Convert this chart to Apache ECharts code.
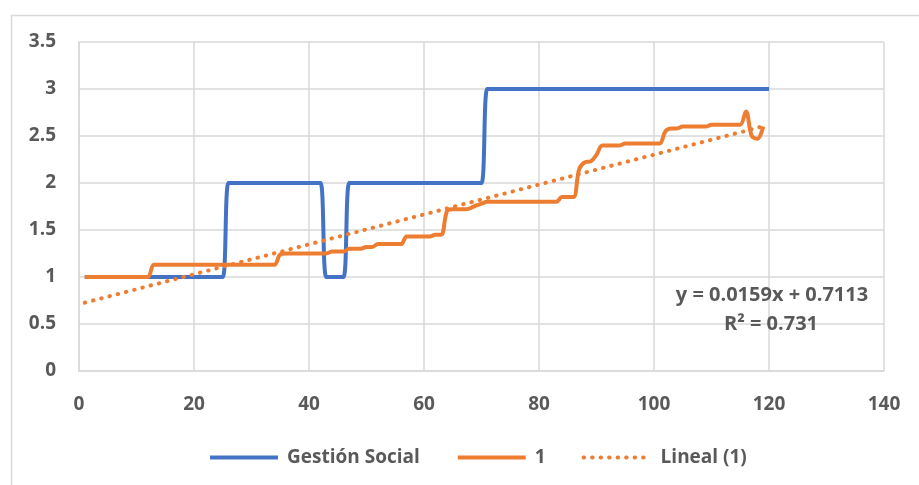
<!DOCTYPE html>
<html>
<head>
<meta charset="utf-8">
<script src="https://cdn.jsdelivr.net/npm/echarts@6/dist/echarts.min.js"></script>
<style>
html,body{margin:0;padding:0;background:#fff;}
#c{width:919px;height:485px;}
</style>
</head>
<body>
<div id="c"></div>
<script>
// ---- data ----
var seriesNames = ['Gestión Social', '1', 'Lineal (1)'];
var gestionSocial = [
  1,1,1,1,1,1,1,1,1,1,1,1,1,1,1,1,1,1,1,1,1,1,1,1,1,
  2,2,2,2,2,2,2,2,2,2,2,2,2,2,2,2,2,
  1,1,1,1,
  2,2,2,2,2,2,2,2,2,2,2,2,2,2,2,2,2,2,2,2,2,2,2,2,
  3,3,3,3,3,3,3,3,3,3,3,3,3,3,3,3,3,3,3,3,3,3,3,3,3,
  3,3,3,3,3,3,3,3,3,3,3,3,3,3,3,3,3,3,3,3,3,3,3,3,3
];
var serie1 = [
  1,1,1,1,1,1,1,1,1,1,1,1,
  1.13,1.13,1.13,1.13,1.13,1.13,1.13,1.13,1.13,1.13,1.13,1.13,1.13,1.13,1.13,1.13,1.13,1.13,1.13,1.13,1.13,1.13,
  1.24,
  1.25,1.25,1.25,1.25,1.25,1.25,1.25,1.25,
  1.27,1.27,1.27,
  1.3,1.3,1.3,
  1.32,1.32,
  1.35,1.35,1.35,1.35,1.35,
  1.43,1.43,1.43,1.43,1.43,
  1.45,1.45,
  1.7,
  1.72,1.72,1.72,
  1.73,1.76,1.78,
  1.8,1.8,1.8,1.8,1.8,1.8,1.8,1.8,1.8,1.8,1.8,1.8,1.8,
  1.85,1.85,1.85,
  2.15,2.22,2.23,2.3,
  2.4,2.4,2.4,2.4,
  2.42,2.42,2.42,2.42,2.42,2.42,2.42,
  2.55,2.58,2.58,
  2.6,2.6,2.6,2.6,2.6,
  2.62,2.62,2.62,2.62,2.62,2.62,
  2.76,2.5,2.47,2.6
];
var trendSlope = 0.0159;
var trendIntercept = 0.7113;
var trendR2 = 0.731;
var xTicks = {min: 0, max: 140, interval: 20};
var yTicks = {min: 0, max: 3.5, interval: 0.5};

// ---- build ----
function toPairs(arr){ return arr.map(function(v,i){ return [i+1, v]; }); }
var trendX = [1, serie1.length];
var trendData = trendX.map(function(x){ return [x, trendSlope*x + trendIntercept]; });

var FONT = '"Open Sans"';
var TXT = '#595959';
var FS = 19;
var LW = 4;
var chart = echarts.init(document.getElementById('c'), null, {renderer:'canvas'});
chart.setOption({
  animation: false,
  backgroundColor: '#fff',
  grid: {left: 79, right: 35, top: 42, bottom: 114, containLabel: false},
  xAxis: {
    type: 'value', min: xTicks.min, max: xTicks.max, interval: xTicks.interval,
    axisLine: {show: true, lineStyle: {color: '#d9d9d9', width: 1.5}},
    axisTick: {show: false},
    splitLine: {show: true, lineStyle: {color: '#d9d9d9', width: 1.5}},
    axisLabel: {color: TXT, fontFamily: FONT, fontWeight: 'bold', fontSize: FS, margin: 24}
  },
  yAxis: {
    type: 'value', min: yTicks.min, max: yTicks.max, interval: yTicks.interval,
    axisLine: {show: true, lineStyle: {color: '#d9d9d9', width: 1.5}},
    axisTick: {show: false},
    splitLine: {show: true, lineStyle: {color: '#d9d9d9', width: 1.5}},
    axisLabel: {color: TXT, fontFamily: FONT, fontWeight: 'bold', fontSize: FS, margin: 23}
  },
  legend: {
    left: 203, top: 443,
    itemWidth: 68, itemHeight: 10, itemGap: 36,
    itemStyle: {opacity: 0},
    lineStyle: {width: LW},
    textStyle: {color: TXT, fontFamily: FONT, fontWeight: 'bold', fontSize: FS, padding: [0,0,0,4]},
    data: seriesNames
  },
  series: [
    {name: seriesNames[0], type: 'line', data: toPairs(gestionSocial), symbol: 'none', smooth: 0.35,
     lineStyle: {color: '#4472C4', width: LW}, itemStyle: {color: '#4472C4'}, z: 3},
    {name: seriesNames[1], type: 'line', data: toPairs(serie1), symbol: 'none', smooth: 0.35,
     lineStyle: {color: '#ED7D31', width: LW}, itemStyle: {color: '#ED7D31'}, z: 4},
    {name: seriesNames[2], type: 'line', data: trendData, symbol: 'none',
     lineStyle: {color: '#ED7D31', width: LW, type: [0.5, 8], cap: 'round'}, itemStyle: {color: '#ED7D31'}, z: 5}
  ],
  graphic: [
    {type: 'rect', left: 9, top: 13, shape: {width: 940, height: 500}, z: -10,
     style: {fill: 'none', stroke: '#d9d9d9', lineWidth: 1.5}},
    {type: 'text', x: 772, y: 295, z: 10,
     style: {text: 'y = ' + trendSlope + 'x + ' + trendIntercept, fill: TXT, font: 'bold 20px ' + FONT,
             textAlign: 'center', textVerticalAlign: 'middle'}},
    {type: 'text', x: 771, y: 324, z: 10,
     style: {text: 'R² = ' + trendR2, fill: TXT, font: 'bold 20px ' + FONT,
             textAlign: 'center', textVerticalAlign: 'middle'}}
  ]
});
</script>
</body>
</html>
